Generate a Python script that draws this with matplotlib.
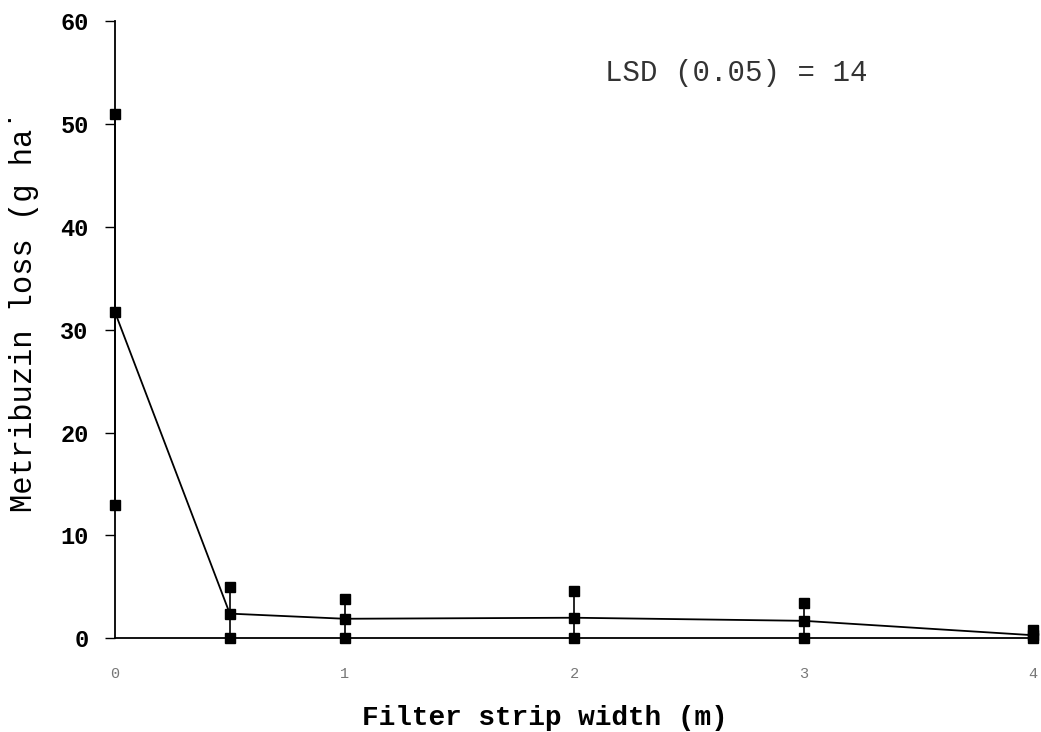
import matplotlib
matplotlib.use("Agg")
import matplotlib.pyplot as plt

# strip widths (m) and metribuzin loss (g/ha): mean, max and min of replicates
width_m = [0, 0.5, 1, 2, 3, 4]
loss_mean = [31.7, 2.4, 1.9, 2.0, 1.7, 0.3]
loss_max = [51.0, 5.0, 3.8, 4.6, 3.4, 0.8]
loss_min = [13.0, 0.0, 0.0, 0.0, 0.0, 0.0]

x_ticks = [0, 1, 2, 3, 4]
y_ticks = [0, 10, 20, 30, 40, 50, 60]
lsd_text = "LSD (0.05) = 14"

MONO = ["Liberation Mono", "DejaVu Sans Mono"]

fig = plt.figure(figsize=(10.41, 7.32), dpi=100)
ax = fig.add_axes([0.1105, 0.128, 0.882, 0.843])

# range bars (min to max) and markers
ax.vlines(width_m, loss_min, loss_max, color="black", linewidth=1.2, clip_on=False)
ax.plot(width_m, loss_mean, color="black", linewidth=1.3, clip_on=False)
for series in (loss_max, loss_mean, loss_min):
    ax.plot(width_m, series, linestyle="none", marker="s", markersize=7,
            color="black", clip_on=False)

ax.set_xlim(0, 4)
ax.set_ylim(0, 60)
ax.set_xticks(x_ticks)
ax.set_yticks(y_ticks)
ax.set_xticklabels([str(v) for v in x_ticks], family=MONO, fontsize=11,
                   color="#777777")
ax.set_yticklabels([str(v) for v in y_ticks], family=MONO, fontsize=17,
                   fontweight="bold")
ax.tick_params(axis="x", length=0, pad=21)
ax.tick_params(axis="y", direction="out", length=7, width=1, pad=12)

for side in ("top", "right"):
    ax.spines[side].set_visible(False)
ax.spines["left"].set_linewidth(1.3)
ax.spines["bottom"].set_linewidth(1.3)

ax.set_xlabel("Filter strip width (m)", family=MONO, fontsize=20,
              fontweight="bold")
ax.xaxis.set_label_coords(0.468, -0.108)
ax.set_ylabel("Metribuzin loss (g ha\u02d9", family=MONO, fontsize=22)
ax.yaxis.set_label_coords(-0.083, 0.53)

ax.text(0.534, 0.916, lsd_text, transform=ax.transAxes, family=MONO,
        fontsize=21, color="#333333", ha="left", va="center")

fig.savefig("out.png", dpi=100)
